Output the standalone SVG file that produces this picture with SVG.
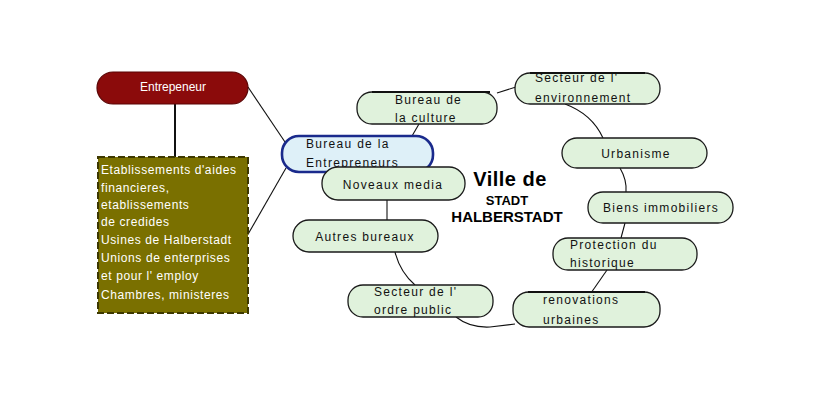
<svg xmlns="http://www.w3.org/2000/svg" width="830" height="400" viewBox="0 0 830 400">
<style>
.bg{fill:#ffffff}
.conn{fill:none;stroke:#111;stroke-width:1.1}
.green{fill:#e0f2dc;stroke:#1a1a1a;stroke-width:1.3}
.t{font-family:"Liberation Sans",Arial,sans-serif;font-size:12px;letter-spacing:1.3px;fill:#111}
.tm{text-anchor:middle}
.w{font-family:"Liberation Sans",Arial,sans-serif;font-size:12px;fill:#ffffff}
.big{font-family:"Liberation Sans",Arial,sans-serif;font-weight:bold;fill:#000;text-anchor:middle}
</style>
<rect class="bg" x="0" y="0" width="830" height="400"/>
<g id="connectors">
<line class="conn" x1="175" y1="104" x2="175" y2="158" style="stroke-width:2"/>
<path class="conn" d="M248 87 L285 142"/>
<path class="conn" d="M247 236 L286 168"/>
<path class="conn" d="M419 124 L412 136"/>
<path class="conn" d="M497 93 L516 87"/>
<path class="conn" d="M565 104 Q592 114 603 138"/>
<path class="conn" d="M620 168 Q627 180 626 192"/>
<path class="conn" d="M625 223 L621 238"/>
<path class="conn" d="M607 270 L591 293"/>
<path class="conn" d="M387 200 L387 222"/>
<path class="conn" d="M395 252 Q400 272 415 285"/>
<path class="conn" d="M456 317 Q470 328 490 327 L515 324"/>
</g>
<g id="entrepeneur">
<rect x="97" y="72" width="151" height="32" rx="16" fill="#8b0b0b" stroke="#5a0505" stroke-width="1.2"/>
<text class="w tm" x="173" y="91">Entrepeneur</text>
</g>
<g id="etablissements">
<rect x="98" y="157" width="150" height="156" fill="#7a7000" stroke="#3d3800" stroke-width="2" stroke-dasharray="7 3"/>
<text class="w" x="101" y="174" style="letter-spacing:0.6px">Etablissements d'aides</text>
<text class="w" x="101" y="192" style="letter-spacing:0.6px">financieres,</text>
<text class="w" x="101" y="209" style="letter-spacing:0.6px">etablissements</text>
<text class="w" x="101" y="226" style="letter-spacing:0.6px">de credides</text>
<text class="w" x="101" y="244" style="letter-spacing:0.6px">Usines de Halberstadt</text>
<text class="w" x="101" y="262" style="letter-spacing:0.6px">Unions de enterprises</text>
<text class="w" x="101" y="280" style="letter-spacing:0.6px">et pour l' employ</text>
<text class="w" x="101" y="299" style="letter-spacing:0.6px">Chambres, ministeres</text>
</g>
<g id="bureau-entrepreneurs">
<rect x="282" y="136" width="151" height="36" rx="17" fill="#def0f8" stroke="#1a2a8c" stroke-width="2.6"/>
<text class="t" x="306" y="148">Bureau de la</text>
<text class="t" x="306" y="167">Entrepreneurs</text>
</g>
<g id="bureau-culture">
<rect class="green" x="357" y="92" width="140" height="32" rx="15"/>
<line x1="372" y1="92" x2="490" y2="92" stroke="#111" stroke-width="2"/>
<text class="t" x="395" y="104">Bureau de</text>
<text class="t" x="395" y="122">la culture</text>
</g>
<g id="secteur-environnement">
<rect class="green" x="515" y="73" width="145" height="31" rx="15"/>
<line x1="530" y1="73" x2="645" y2="73" stroke="#111" stroke-width="2"/>
<text class="t" x="535" y="82">Secteur de l'</text>
<text class="t" x="535" y="102">environnement</text>
</g>
<g id="urbanisme">
<rect class="green" x="562" y="138" width="145" height="30" rx="15"/>
<text class="t tm" x="636" y="158">Urbanisme</text>
</g>
<g id="biens-immobiliers">
<rect class="green" x="588" y="192" width="145" height="31" rx="15"/>
<text class="t tm" x="661" y="212">Biens immobiliers</text>
</g>
<g id="protection-historique">
<rect class="green" x="553" y="238" width="144" height="32" rx="15"/>
<text class="t" x="570" y="249">Protection du</text>
<text class="t" x="570" y="267">historique</text>
</g>
<g id="renovations-urbaines">
<rect class="green" x="513" y="292" width="147" height="35" rx="16"/>
<line x1="528" y1="292" x2="645" y2="292" stroke="#111" stroke-width="2"/>
<text class="t" x="543" y="304">renovations</text>
<text class="t" x="543" y="324">urbaines</text>
</g>
<g id="noveaux-media">
<rect class="green" x="322" y="167" width="143" height="33" rx="16"/>
<text class="t tm" x="393" y="189">Noveaux media</text>
</g>
<g id="autres-bureaux">
<rect class="green" x="293" y="220" width="145" height="32" rx="16"/>
<text class="t tm" x="365" y="241">Autres bureaux</text>
</g>
<g id="secteur-ordre-public">
<rect class="green" x="348" y="285" width="145" height="32" rx="15"/>
<text class="t" x="374" y="296">Secteur de l'</text>
<text class="t" x="374" y="314">ordre public</text>
</g>
<g id="ville-de-stadt-halberstadt">
<text class="big" x="510" y="186" style="font-size:20px;letter-spacing:0.5px">Ville de</text>
<text class="big" x="507" y="205" style="font-size:13px">STADT</text>
<text class="big" x="507" y="222" style="font-size:15px">HALBERSTADT</text>
</g>
</svg>
